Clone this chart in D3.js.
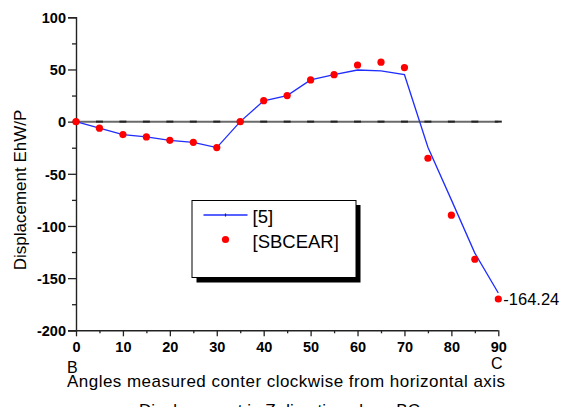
<!DOCTYPE html>
<html>
<head>
<meta charset="utf-8">
<script src="https://cdn.jsdelivr.net/npm/d3@7"></script>
<style>
  html, body { margin: 0; padding: 0; background: #fff; }
  svg { display: block; }
  text { font-family: "Liberation Sans", Arial, Helvetica, sans-serif; fill: #000; }
</style>
</head>
<body>
<svg id="chart" width="564" height="414"></svg>
<script>
// Angles (degrees) along BC
const angles = [0, 5, 10, 15, 20, 25, 30, 35, 40, 45, 50, 55, 60, 65, 70, 75, 80, 85, 90];
// Series [5] – reference solution (line)
const refValues = [0, -6.3, -12.4, -14.7, -17.9, -19.8, -24.9, 0, 20, 25, 40, 45, 49.5, 48.6, 45, -24.6, -75, -126, -164.24];
// Series [SBCEAR] – computed points
const sbcearValues = [0, -6.3, -12.4, -14.7, -17.9, -19.8, -24.9, 0, 20.1, 25, 40, 45, 54.3, 57, 51.8, -35.1, -89.7, -131.9, -170];

const xMajorTicks = [0, 10, 20, 30, 40, 50, 60, 70, 80, 90];
const xMinorTicks = [5, 15, 25, 35, 45, 55, 65, 75, 85];
const yMajorTicks = [-200, -150, -100, -50, 0, 50, 100];
const yMinorTicks = [-175, -125, -75, -25, 25, 75];
const seriesNames = ["[5]", "[SBCEAR]"];

const svg = d3.select("#chart");
const x = d3.scaleLinear().domain([0, 90]).range([76, 498.3]);
const y = d3.scaleLinear().domain([-200, 100]).range([330.3, 17.3]);

const axisColor = "#222";
// plain hyphen-minus for negative numbers
const numFmt = d => String(d);

// zero reference line with darker marks every 5 degrees
svg.append("line")
  .attr("x1", x(0)).attr("x2", x(90))
  .attr("y1", y(0)).attr("y2", y(0))
  .attr("stroke", "#6a6a6a").attr("stroke-width", 2);
svg.append("g").selectAll("line")
  .data(angles)
  .join("line")
  .attr("x1", d => x(d) - 3.5).attr("x2", d => x(d) + 3.5)
  .attr("y1", y(0)).attr("y2", y(0))
  .attr("stroke", "#222").attr("stroke-width", 2);

// y axis
const yAxis = svg.append("g").attr("transform", `translate(${x(0)},0)`)
  .call(d3.axisLeft(y).tickValues(yMajorTicks).tickSize(8).tickPadding(2).tickFormat(numFmt));
const yMinor = svg.append("g").attr("transform", `translate(${x(0)},0)`)
  .call(d3.axisLeft(y).tickValues(yMinorTicks).tickSize(4).tickFormat(""));

// x axis
const xAxis = svg.append("g").attr("transform", `translate(0,${y(-200)})`)
  .call(d3.axisBottom(x).tickValues(xMajorTicks).tickSize(6).tickPadding(5).tickFormat(numFmt));
const xMinor = svg.append("g").attr("transform", `translate(0,${y(-200)})`)
  .call(d3.axisBottom(x).tickValues(xMinorTicks).tickSize(3).tickFormat(""));

[yAxis, yMinor, xAxis, xMinor].forEach(g => {
  g.select(".domain").attr("stroke", axisColor).attr("stroke-width", 1.4);
  g.selectAll(".tick line").attr("stroke", axisColor).attr("stroke-width", 1.3);
  g.selectAll("text")
    .attr("font-family", "'Liberation Sans', Arial, sans-serif")
    .attr("font-size", 14.5).attr("font-weight", "bold").attr("fill", "#000");
});
yMinor.select(".domain").remove();
xMinor.select(".domain").remove();
// extend the bottom axis to meet the -200 tick
xAxis.select(".domain").attr("d", `M${x(0) - 8},0.5H${x(90)}`);
yAxis.selectAll("text").attr("dy", "0.36em");

// line series [5]
const line = d3.line().x((d, i) => x(angles[i])).y(d => y(d));
svg.append("path")
  .datum(refValues)
  .attr("d", line)
  .attr("fill", "none")
  .attr("stroke", "#1f2dff")
  .attr("stroke-width", 1.3);

// point series [SBCEAR]
svg.append("g").selectAll("circle")
  .data(sbcearValues)
  .join("circle")
  .attr("cx", (d, i) => x(angles[i]))
  .attr("cy", d => y(d))
  .attr("r", 3.6)
  .attr("fill", "#ff0000");

// end value label
svg.append("text")
  .attr("x", x(90) + 5).attr("y", y(sbcearValues[sbcearValues.length - 1]))
  .attr("dy", "0.36em")
  .attr("font-size", 16.5)
  .text(refValues[refValues.length - 1].toFixed(2));

// point labels B and C
svg.append("text").attr("x", 67).attr("y", 372.5).attr("font-size", 16).text("B");
svg.append("text").attr("x", 491).attr("y", 368.5).attr("font-size", 16).text("C");

// axis titles
svg.append("text")
  .attr("x", 67).attr("y", 387)
  .attr("font-size", 17)
  .attr("textLength", 438).attr("lengthAdjust", "spacing")
  .text("Angles measured conter clockwise from horizontal axis");

svg.append("text")
  .attr("transform", "translate(26,190) rotate(-90)")
  .attr("text-anchor", "middle")
  .attr("font-size", 17)
  .text("Displacement EhW/P");

// secondary caption running off the bottom edge
svg.append("clipPath").attr("id", "captionClip")
  .append("rect").attr("x", 0).attr("y", 0).attr("width", 564).attr("height", 407);
svg.append("text")
  .attr("clip-path", "url(#captionClip)")
  .attr("x", 139).attr("y", 415.5)
  .attr("font-size", 17)
  .attr("textLength", 281).attr("lengthAdjust", "spacing")
  .text("Displacement in Z direction along BC");

// legend
const lg = svg.append("g").attr("transform", "translate(191.5,200)");
lg.append("rect").attr("x", 5).attr("y", 5).attr("width", 164).attr("height", 77.5).attr("fill", "#000");
lg.append("rect").attr("x", 0.5).attr("y", 0.5).attr("width", 164).attr("height", 77)
  .attr("fill", "#fff").attr("stroke", "#000").attr("stroke-width", 1);
lg.append("line").attr("x1", 12).attr("x2", 56).attr("y1", 15).attr("y2", 15)
  .attr("stroke", "#1f2dff").attr("stroke-width", 1.3);
lg.append("line").attr("x1", 34).attr("x2", 34).attr("y1", 13.5).attr("y2", 16.5)
  .attr("stroke", "#223").attr("stroke-width", 1.2);
lg.append("circle").attr("cx", 34).attr("cy", 39.5).attr("r", 3.6).attr("fill", "#ff0000");
lg.selectAll("text.lbl")
  .data(seriesNames)
  .join("text")
  .attr("class", "lbl")
  .attr("x", 61)
  .attr("y", (d, i) => 22.5 + i * 25)
  .attr("font-size", 18.5)
  .text(d => d);
</script>
</body>
</html>
